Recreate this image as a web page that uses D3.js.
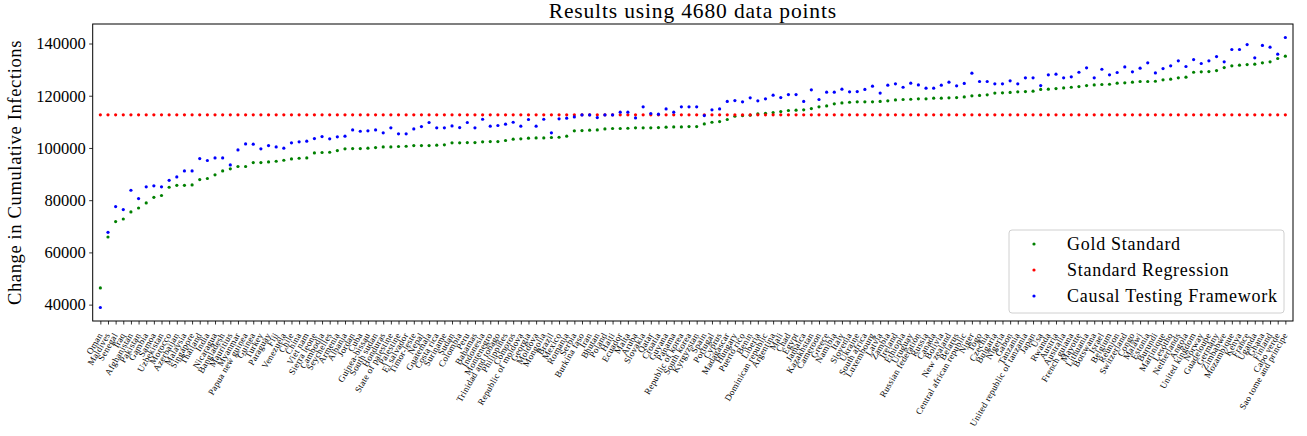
<!DOCTYPE html>
<html>
<head>
<meta charset="utf-8">
<script src="https://cdn.jsdelivr.net/npm/d3@7"></script>
<style>
  html, body { margin: 0; padding: 0; background: #fff; }
  svg { display: block; }
  text { font-family: "Liberation Serif", "DejaVu Serif", serif; fill: #000; }
</style>
</head>
<body>
<svg id="chart" width="1307" height="436"></svg>
<script>
// ============================================================
// Resultados por país — pontos (D3)
// ============================================================

const TITLE = 'Results using 4680 data points';
const Y_LABEL = 'Change in Cumulative Infections';
const Y_TICKS = [40000, 60000, 80000, 100000, 120000, 140000];
const SERIES_NAMES = ['Gold Standard', 'Standard Regression', 'Causal Testing Framework'];
const SERIES_COLORS = ['#008000', '#ff0000', '#0000ff'];

const countries = [
  'Oman', 'Maldives', 'Senegal', 'Iraq', 'Afghanistan', 'Pakistan', 'Gambia', 'Samoa', 'Uzbekistan', 'Morocco',
  'Azerbaijan', 'Malaysia', 'Singapore', 'Thailand', 'India', 'Nicaragua', 'Bangladesh', 'Mauritius', 'Myanmar', 'Papua new guinea',
  'Guinea', 'Turkey', 'Paraguay', 'Fiji', 'Venezuela', 'Chile', 'China', 'Viet nam', 'Sierra leone', 'Cambodia',
  'Seychelles', 'Armenia', 'Albania', 'Jordan', 'Cuba', 'Guinea-bissau', 'South sudan', 'Honduras', 'State of palestine', 'Palestine',
  'El salvador', 'Timor-leste', 'Nepal', 'Guatemala', 'Costa rica', 'Suriname', 'Sudan', 'Colombia', 'Peru', 'Bahamas',
  'Indonesia', 'Montenegro', 'Trinidad and tobago', 'Philippines', 'Comoros', 'Republic of moldova', 'Georgia', 'Moldova', 'Mongolia', 'Brazil',
  'Mexico', 'Romania', 'Serbia', 'Burkina faso', 'Iran', 'Bhutan', 'Poland', 'Haiti', 'Ecuador', 'Malta',
  'Aruba', 'Slovakia', 'Qatar', 'Croatia', 'Guyana', 'Panama', 'Republic of korea', 'South korea', 'Kyrgyzstan', 'Spain',
  'Portugal', 'Cyprus', 'Madagascar', 'Hungary', 'Puerto rico', 'Benin', 'Liberia', 'Dominican republic', 'Argentina', 'Mali',
  'Chad', 'Egypt', 'Jamaica', 'Kazakhstan', 'Cameroon', 'Greece', 'Namibia', 'Italy', 'Slovenia', 'Ukraine',
  'South africa', 'Luxembourg', 'Latvia', 'Zambia', 'Ireland', 'Ethiopia', 'Uruguay', 'Russian federation', 'Russia', 'Canada',
  'Bolivia', 'New zealand', 'Belarus', 'Central african republic', 'Niger', 'Togo', 'Czechia', 'Bulgaria', 'Nigeria', 'Gabon',
  'Tanzania', 'United republic of tanzania', 'Japan', 'Usa', 'Rwanda', 'Austria', 'Australia', 'French guiana', 'Mayotte', 'Lithuania',
  'Botswana', 'Israel', 'Belgium', 'Reunion', 'Switzerland', 'Congo', 'Malawi', 'Estonia', 'Burundi', 'Martinique',
  'Lesotho', 'Netherlands', 'Angola', 'United kingdom', 'Norway', 'Guadeloupe', 'Germany', 'Zimbabwe', 'Mozambique', 'Kenya',
  'France', 'Uganda', 'Ghana', 'Finland', 'Cabo verde', 'Sao tome and principe'
];

const goldStandard = [
  46400, 65900, 71800, 72800, 75500, 77000, 78950, 81100, 81800, 84950,
  85700, 85700, 85850, 87900, 88300, 89700, 91200, 92000, 92900, 92900,
  94400, 94400, 94650, 94900, 95300, 95800, 96050, 96200, 98100, 98250,
  98350, 99000, 99650, 99750, 99750, 99900, 100150, 100400, 100400, 100550,
  100650, 100900, 100900, 100900, 101050, 101200, 101950, 101950, 102050, 102050,
  102350, 102450, 102450, 102850, 103350, 103500, 103750, 103850, 103850, 104000,
  104100, 104500, 106550, 106650, 106800, 106900, 107300, 107450, 107450, 107550,
  107700, 107700, 107700, 107800, 107950, 108050, 108050, 108200, 108200, 109200,
  109850, 110100, 110900, 112150, 112400, 112550, 113050, 113300, 113550, 113950,
  114350, 114450, 114600, 115100, 115750, 116100, 116900, 117250, 117500, 117650,
  117650, 117650, 117800, 118050, 118400, 118550, 118650, 118800, 118800, 119050,
  119050, 119200, 119300, 119550, 119950, 120100, 120350, 121000, 121100, 121250,
  121500, 121600, 121750, 122400, 122500, 122750, 123000, 123250, 123500, 123900,
  124150, 124300, 124400, 124800, 124950, 125200, 125450, 125450, 125550, 126100,
  126350, 126850, 127100, 129000, 129150, 129250, 129650, 130800, 131450, 131700,
  131950, 132100, 132600, 133000, 134250, 135150
];

const standardRegression = [
  112700, 112700, 112700, 112700, 112700, 112700, 112700, 112700, 112700, 112700,
  112700, 112700, 112700, 112700, 112700, 112700, 112700, 112700, 112700, 112700,
  112700, 112700, 112700, 112700, 112700, 112700, 112700, 112700, 112700, 112700,
  112700, 112700, 112700, 112700, 112700, 112700, 112700, 112700, 112700, 112700,
  112700, 112700, 112700, 112700, 112700, 112700, 112700, 112700, 112700, 112700,
  112700, 112700, 112700, 112700, 112700, 112700, 112700, 112700, 112700, 112700,
  112700, 112700, 112700, 112700, 112700, 112700, 112700, 112700, 112700, 112700,
  112700, 112700, 112700, 112700, 112700, 112700, 112700, 112700, 112700, 112700,
  112700, 112700, 112700, 112700, 112700, 112700, 112700, 112700, 112700, 112700,
  112700, 112700, 112700, 112700, 112700, 112700, 112700, 112700, 112700, 112700,
  112700, 112700, 112700, 112700, 112700, 112700, 112700, 112700, 112700, 112700,
  112700, 112700, 112700, 112700, 112700, 112700, 112700, 112700, 112700, 112700,
  112700, 112700, 112700, 112700, 112700, 112700, 112700, 112700, 112700, 112700,
  112700, 112700, 112700, 112700, 112700, 112700, 112700, 112700, 112700, 112700,
  112700, 112700, 112700, 112700, 112700, 112700, 112700, 112700, 112700, 112700,
  112700, 112700, 112700, 112700, 112700, 112700
];

const causalFramework = [
  38900, 67700, 77550, 76400, 83800, 80600, 85100, 85500, 85100, 87600,
  88900, 91200, 91200, 95950, 95200, 96200, 96200, 93500, 99250, 101550,
  101450, 99650, 100900, 100400, 99900, 101950, 102350, 102600, 103600, 104350,
  103500, 104250, 104500, 106900, 106400, 106550, 106900, 105800, 107700, 105400,
  105400, 107300, 108200, 109750, 107700, 107700, 108450, 107800, 109750, 107700,
  111000, 108350, 108600, 109100, 109850, 108350, 110900, 108350, 111000, 105800,
  111150, 111400, 111900, 112650, 112650, 111650, 112650, 112650, 113700, 113700,
  111500, 115750, 113200, 112950, 114950, 113700, 115750, 115750, 115750, 112400,
  114600, 114950, 117800, 118150, 117650, 119200, 118050, 118800, 120200, 119300,
  120450, 120450, 117800, 122250, 118550, 121350, 121350, 122500, 121500, 121600,
  122400, 123650, 121000, 124050, 124550, 123250, 124800, 124150, 122900, 122900,
  124050, 125200, 123800, 124700, 128650, 125450, 125450, 124550, 124550, 125700,
  124550, 126850, 126850, 123900, 128000, 128250, 126850, 127250, 129000, 130700,
  126850, 130150, 128000, 128900, 131050, 129150, 130550, 132600, 128750, 130400,
  131450, 133350, 131200, 133850, 132350, 133350, 135000, 133000, 137700, 137700,
  139600, 134500, 139250, 138600, 135900, 142300
];

// ---------- layout ----------
const W = 1307, H = 436;
const plot = { left: 92.7, right: 1293, top: 24, bottom: 321 };

const svg = d3.select('#chart');

const x = d3.scaleLinear()
  .domain([-1, countries.length])
  .range([plot.left, plot.right]);

// autoscale com margem de 5%, como o matplotlib
const allVals = goldStandard.concat(standardRegression, causalFramework);
const [vmin, vmax] = d3.extent(allVals);
const pad = (vmax - vmin) * 0.05;
const y = d3.scaleLinear()
  .domain([vmin - pad, vmax + pad])
  .range([plot.bottom, plot.top]);

// ---------- eixos ----------
const xAxis = d3.axisBottom(x)
  .tickValues(d3.range(countries.length))
  .tickSize(3.5)
  .tickFormat('');

svg.append('g')
  .attr('transform', `translate(0,${plot.bottom})`)
  .call(xAxis)
  .call(g => g.select('.domain').remove())
  .call(g => g.selectAll('line').attr('stroke', '#000').attr('stroke-width', 0.8));

// nomes dos países, girados 60°
svg.append('g')
  .selectAll('text')
  .data(countries)
  .join('text')
  .attr('transform', (d, i) => `translate(${x(i) + 2.5},${plot.bottom + 14}) rotate(-60)`)
  .attr('text-anchor', 'end')
  .attr('font-size', 9)
  .attr('letter-spacing', 0.3)
  .text(d => d);

const yAxis = d3.axisLeft(y)
  .tickValues(Y_TICKS)
  .tickSize(3.5)
  .tickPadding(3.5)
  .tickFormat(d3.format('d'));

svg.append('g')
  .attr('transform', `translate(${plot.left},0)`)
  .call(yAxis)
  .call(g => g.select('.domain').remove())
  .call(g => g.selectAll('line').attr('stroke', '#000').attr('stroke-width', 0.8))
  .call(g => g.selectAll('text')
    .attr('font-family', '"Liberation Serif", serif')
    .attr('font-size', 16.5)
    .attr('fill', '#000'));

// moldura
svg.append('rect')
  .attr('x', plot.left).attr('y', plot.top)
  .attr('width', plot.right - plot.left).attr('height', plot.bottom - plot.top)
  .attr('fill', 'none').attr('stroke', '#000').attr('stroke-width', 1);

// títulos
svg.append('text')
  .attr('x', (plot.left + plot.right) / 2).attr('y', 18)
  .attr('text-anchor', 'middle')
  .attr('font-size', 21.5)
  .attr('letter-spacing', 0.85)
  .text(TITLE);

svg.append('text')
  .attr('transform', `translate(21,${(plot.top + plot.bottom) / 2}) rotate(-90)`)
  .attr('text-anchor', 'middle')
  .attr('font-size', 18.5)
  .attr('letter-spacing', 0.65)
  .text(Y_LABEL);

// ---------- pontos ----------
const seriesData = [goldStandard, standardRegression, causalFramework];
const pts = svg.append('g');
seriesData.forEach((vals, s) => {
  pts.append('g')
    .selectAll('circle')
    .data(vals)
    .join('circle')
    .attr('cx', (d, i) => x(i))
    .attr('cy', d => y(d))
    .attr('r', 1.6)
    .attr('fill', SERIES_COLORS[s]);
});

// ---------- legenda ----------
const lg = svg.append('g').attr('transform', 'translate(1009,230)');
lg.append('rect')
  .attr('width', 275).attr('height', 83)
  .attr('rx', 3).attr('ry', 3)
  .attr('fill', '#fff').attr('fill-opacity', 0.8)
  .attr('stroke', '#d0d0d0').attr('stroke-width', 1);

SERIES_NAMES.forEach((name, s) => {
  const yy = 14 + s * 26;
  lg.append('circle')
    .attr('cx', 25).attr('cy', yy)
    .attr('r', 1.6)
    .attr('fill', SERIES_COLORS[s]);
  lg.append('text')
    .attr('x', 58).attr('y', yy + 6)
    .attr('font-size', 18)
    .attr('letter-spacing', 0.72)
    .text(name);
});
</script>
</body>
</html>
